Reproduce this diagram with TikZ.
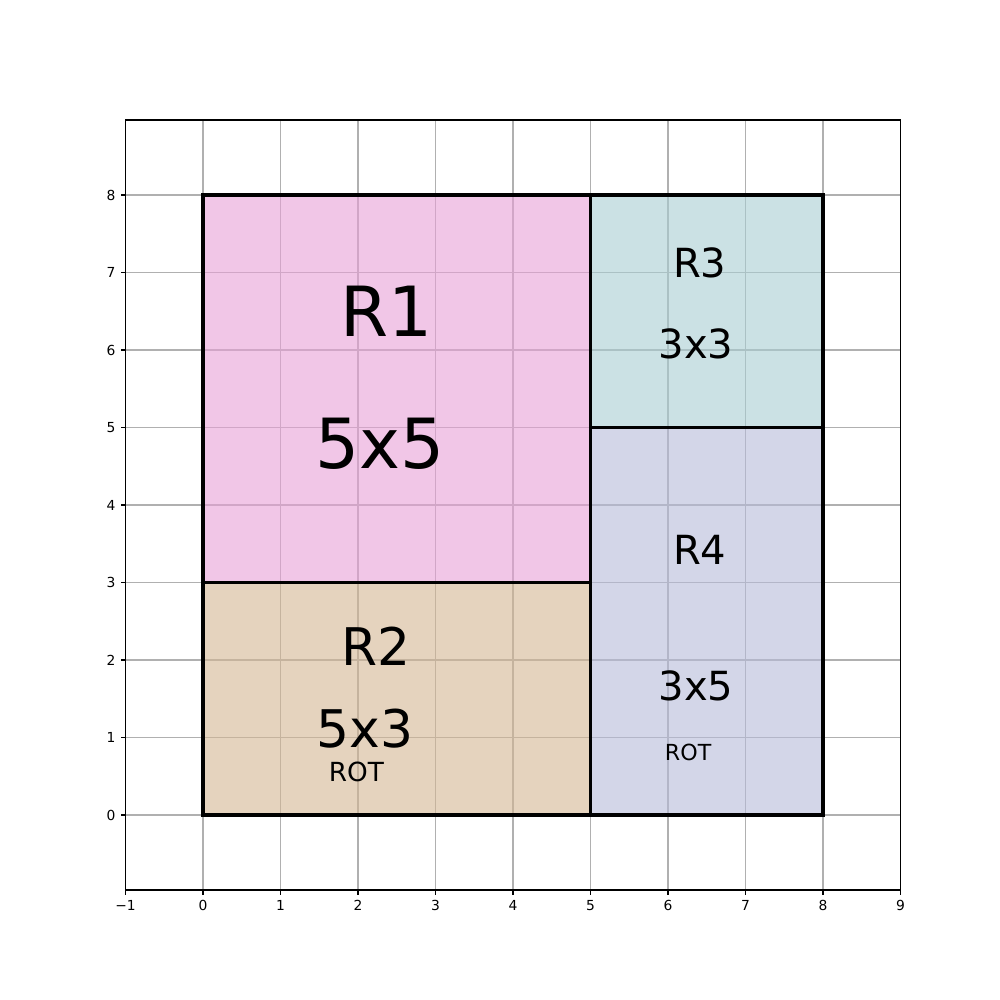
\documentclass[tikz,border=0pt]{standalone}
\usepackage{fontspec}
\setmainfont{DejaVu Sans}
\definecolor{rOne}{RGB}{232,160,215}
\definecolor{rTwo}{RGB}{212,182,147}
\definecolor{rThree}{RGB}{168,205,210}
\definecolor{rFour}{RGB}{182,187,217}
\definecolor{gridgray}{RGB}{176,176,176}
\begin{document}
\begin{tikzpicture}[
    x=1.9685cm, y=1.9685cm,
    gridline/.style={gridgray, line width=0.8pt},
    spine/.style={black, line width=0.8pt},
    ticklbl/.style={font=\fontsize{10}{12}\selectfont, inner sep=0pt},
    region/.style={draw=black, line width=1.5pt, fill opacity=0.6},
    border/.style={draw=black, line width=2.5pt},
    name1/.style={font=\fontsize{50}{60}\selectfont, inner sep=0pt},
    name2/.style={font=\fontsize{37.5}{45}\selectfont, inner sep=0pt},
    name3/.style={font=\fontsize{29}{35}\selectfont, inner sep=0pt},
    rot2/.style={font=\fontsize{19}{23}\selectfont, inner sep=0pt},
    rot4/.style={font=\fontsize{16}{19}\selectfont, inner sep=0pt}
]
\useasboundingbox (-2.619,-2.387) rectangle (10.284,10.516);

% Grid and axes
\draw[gridline] (-1,-0.968) grid[step=1] (9,8.968);
\foreach \x/\t in {-1/{−1},0/0,1/1,2/2,3/3,4/4,5/5,6/6,7/7,8/8,9/9} {
  \draw[spine] (\x,-0.968) -- ++(0,-3.5pt);
  \node[ticklbl, anchor=north] (xt\x) at ([yshift=-7pt]\x,-0.968) {\t};
}
\foreach \y in {0,...,8} {
  \draw[spine] (-1,\y) -- ++(-3.5pt,0);
  \node[ticklbl, anchor=east] (yt\y) at ([xshift=-7pt]-1,\y) {\y};
}

% Regions
\draw[region, fill=rOne] (0,3) rectangle (5,8);
\draw[region, fill=rTwo] (0,0) rectangle (5,3);
\draw[region, fill=rThree] (5,5) rectangle (8,8);
\draw[region, fill=rFour] (5,0) rectangle (8,5);
\draw[border] (0,0) rectangle (8,8);

% Labels
\node[name1] (r1) at (2.37,6.50) {R1};
\node[name1] (r1size) at (2.28,4.79) {5x5};
\node[name2] (r2) at (2.23,2.18) {R2};
\node[name2] (r2size) at (2.09,1.12) {5x3};
\node[rot2] (r2rot) at (1.98,0.55) {ROT};
\node[name3] (r3) at (6.41,7.13) {R3};
\node[name3] (r3size) at (6.36,6.08) {3x3};
\node[name3] (r4) at (6.41,3.42) {R4};
\node[name3] (r4size) at (6.36,1.66) {3x5};
\node[rot4] (r4rot) at (6.26,0.81) {ROT};

\draw[spine] (-1,-0.968) rectangle (9,8.968);
\end{tikzpicture}
\end{document}
